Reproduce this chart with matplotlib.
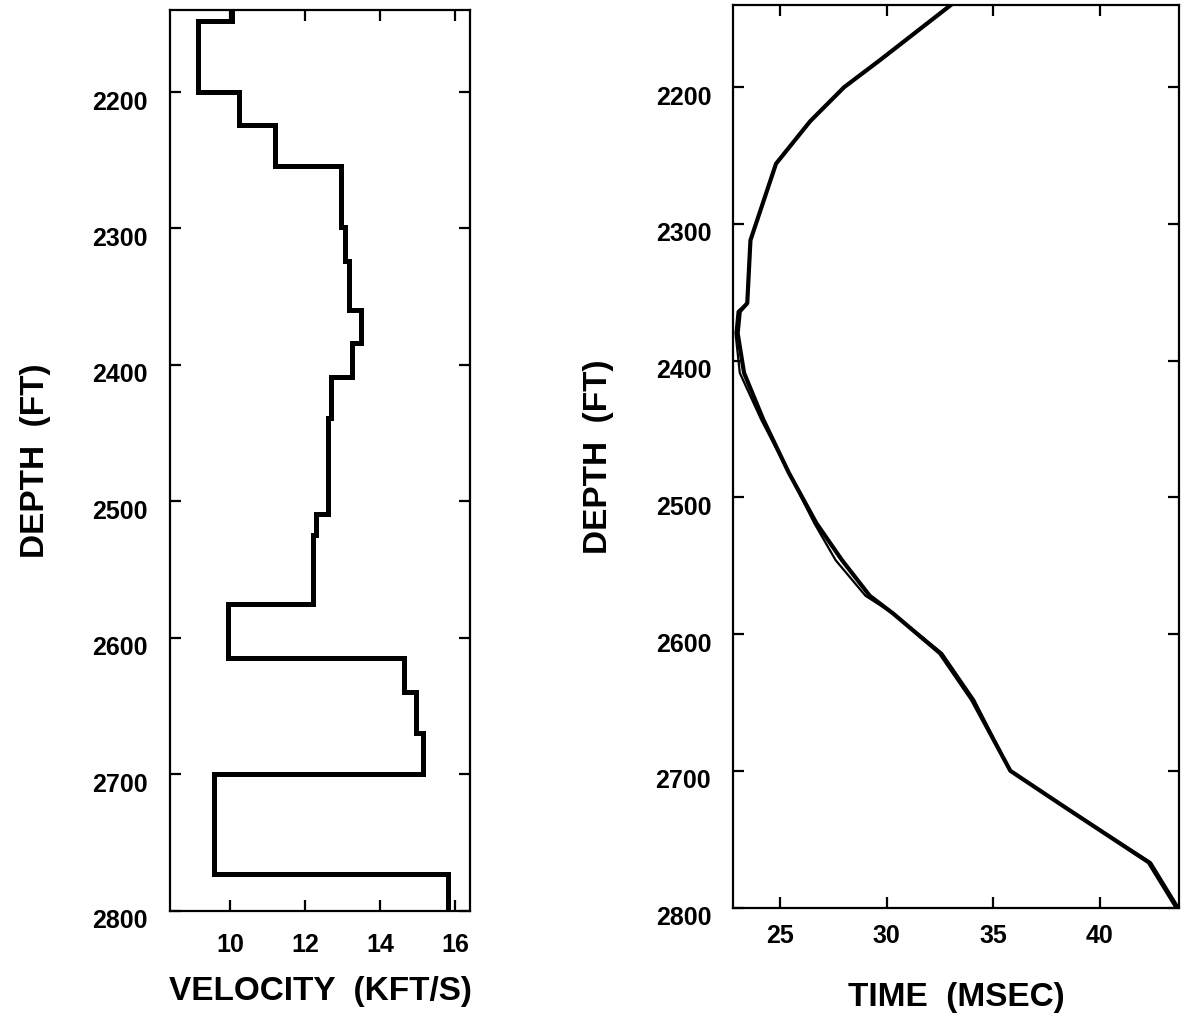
import matplotlib
matplotlib.use('Agg')
import matplotlib.pyplot as plt
import matplotlib.transforms as mtransforms

plt.rcParams['font.family'] = ['Liberation Sans', 'DejaVu Sans']
plt.rcParams['font.weight'] = 'bold'

# velocity log (step profile): layer boundaries in ft, velocity per layer in kft/s
depth_edges = [2140, 2148, 2200, 2224, 2254, 2299, 2324, 2360, 2384, 2409,
               2439, 2509, 2525, 2575, 2615, 2640, 2670, 2700, 2773, 2800]
velocity = [10.05, 9.15, 10.25, 11.2, 12.95, 13.07, 13.18, 13.5, 13.25,
            12.7, 12.6, 12.3, 12.2, 9.95, 14.65, 14.95, 15.15, 9.57, 15.8]

# time-depth curves (two nearly identical traces)
curve_depth = [2140, 2180, 2200, 2225, 2256, 2312, 2358, 2364, 2380, 2409,
               2443, 2482, 2519, 2546, 2572, 2585, 2614, 2648, 2700, 2727,
               2767, 2800]
time_a = [33.0, 29.7, 28.0, 26.4, 24.8, 23.6, 23.45, 23.1, 23.0, 23.3,
          24.2, 25.4, 26.7, 27.9, 29.2, 30.3, 32.5, 34.0, 35.8, 38.4,
          42.3, 43.6]
time_b = [33.0, 29.7, 28.0, 26.4, 24.8, 23.6, 23.45, 23.0, 22.9, 23.1,
          24.1, 25.4, 26.6, 27.6, 29.0, 30.3, 32.6, 34.1, 35.8, 38.4,
          42.4, 43.7]

depth_ticks = [2200, 2300, 2400, 2500, 2600, 2700, 2800]
vel_ticks = [10, 12, 14, 16]
time_ticks = [25, 30, 35, 40]

fig = plt.figure(figsize=(11.81, 10.22), dpi=100)
ax1 = fig.add_axes([0.144, 0.109, 0.254, 0.881])
ax2 = fig.add_axes([0.621, 0.112, 0.377, 0.883])

ax1.stairs(velocity, depth_edges, orientation='horizontal', baseline=None,
           color='black', lw=3.6)
ax2.plot(time_a, curve_depth, color='black', lw=3.0, solid_joinstyle='round')
ax2.plot(time_b, curve_depth, color='black', lw=1.6, solid_joinstyle='round')

ax1.set_xlim(8.4, 16.4)
ax2.set_xlim(22.8, 43.7)
ax1.set_xticks(vel_ticks)
ax2.set_xticks(time_ticks)

for ax in (ax1, ax2):
    ax.set_ylim(2800, 2140)
    ax.set_yticks(depth_ticks)
    for s in ax.spines.values():
        s.set_linewidth(1.6)
    ax.tick_params(direction='in', top=True, right=True, length=8, width=1.6,
                   labelsize=18, pad=16)
    ax.set_ylabel('DEPTH  (FT)', fontsize=24, fontweight='bold', labelpad=30)
    # tick labels sit slightly below their ticks in the original
    off = mtransforms.ScaledTranslation(0, -0.08, fig.dpi_scale_trans)
    for lbl in ax.get_yticklabels():
        lbl.set_transform(lbl.get_transform() + off)
        lbl.set_fontweight('bold')
    for lbl in ax.get_xticklabels():
        lbl.set_fontweight('bold')

ax2.tick_params(axis='x', pad=12)

ax1.set_xlabel('VELOCITY  (KFT/S)', fontsize=24, fontweight='bold', labelpad=14)
ax2.set_xlabel('TIME  (MSEC)', fontsize=24, fontweight='bold', labelpad=24)

fig.savefig('out.png', dpi=100)
